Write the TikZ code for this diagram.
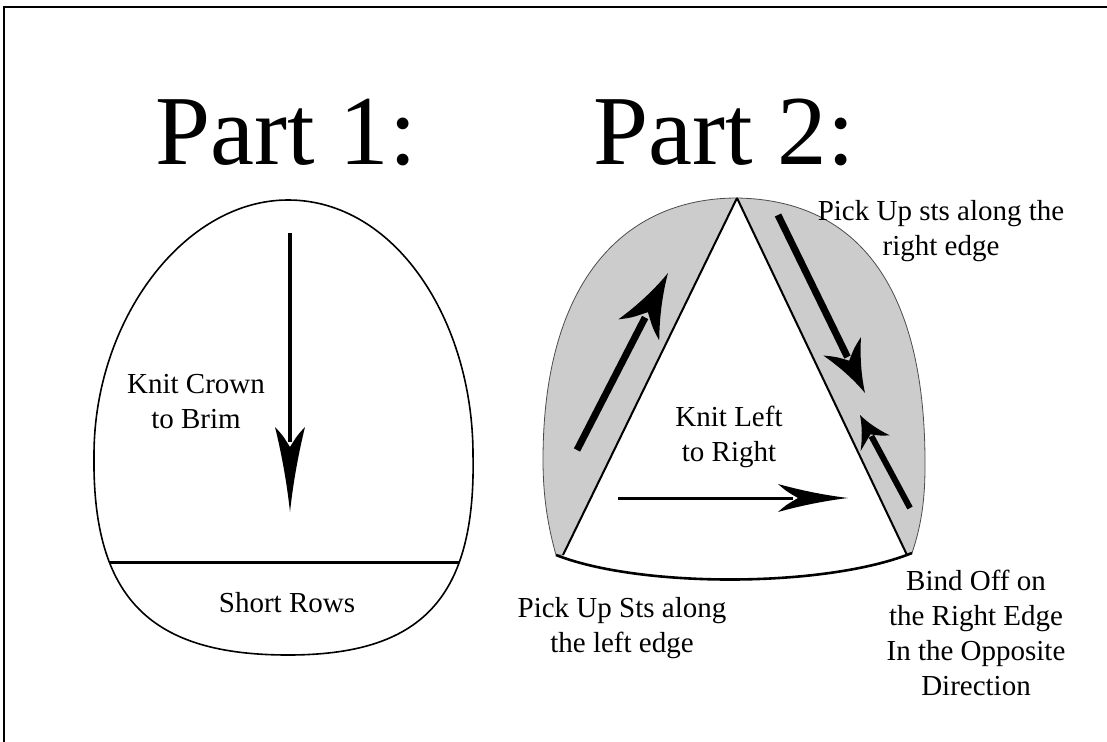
\documentclass[tikz,border=0pt]{standalone}
\usepackage{fontspec}
\setmainfont{Liberation Serif}
\usetikzlibrary{calc}
% arrow head: tip, angle, length, width, inset
\newcommand\ahd[5]{%
  \fill[shift={(#1)}, rotate=#2] (0,0) .. controls (-0.33*#3,0.1*#4) and (-0.67*#3,0.27*#4) .. (-#3,0.5*#4)
    .. controls (-#3+0.4*#5,0.25*#4) .. (-#3+#5,0)
    .. controls (-#3+0.4*#5,-0.25*#4) .. (-#3,-0.5*#4)
    .. controls (-0.67*#3,-0.27*#4) and (-0.33*#3,-0.1*#4) .. (0,0) -- cycle;}
\begin{document}
\begin{tikzpicture}[x=1pt,y=-1pt,
  title/.style={font=\fontsize{99}{104}\selectfont, inner sep=0pt, anchor=base},
  lbl/.style={font=\fontsize{29}{35}\selectfont, align=center, inner sep=0pt, anchor=north},
  outline/.style={draw=black, line width=1.6pt},
  wedge/.style={fill=black!20, draw=black!70, line width=0.8pt},
  edge/.style={draw=black, line width=2pt},
  thinarr/.style={line width=3.5pt},
  fatarr/.style={line width=7pt}]
\useasboundingbox (0,0) rectangle (1107,741);
% frame
\draw[line width=2.5pt] (4,760) -- (4,7) -- (1120,7);
% titles
\node[title] (t1) at (286,164) {Part 1:};
\node[title] (t2) at (724,164) {Part 2:};
% ---------- Part 1: egg ----------
\coordinate (eT) at (288,200);
\coordinate (eR) at (473,455);
\coordinate (eB) at (288,655);
\coordinate (eL) at (94,455);
\path[save path=\eggpath] (eT) .. controls (395,200) and (473,320) .. (eR)
  .. controls (476,600) and (420,655) .. (eB)
  .. controls (152,655) and (92,600) .. (eL)
  .. controls (94,320) and (184,200) .. (eT) -- cycle;
\begin{scope}
  \clip[use path=\eggpath];
  \coordinate (sL) at (80,562);
  \coordinate (sR) at (490,562);
  \draw[line width=3pt] (sL) -- (sR);
\end{scope}
\draw[outline, use path=\eggpath];
\coordinate (c1) at (290,233);
\coordinate (c2) at (290,512);
\draw[thinarr] (c1) -- ($(c2)!70pt!(c1)$);
\ahd{c2}{-90}{85}{30}{20}
\node[lbl] (crown) at (196,374) {Knit Crown\\to Brim};
\node[font=\fontsize{29}{35}\selectfont, inner sep=0pt, anchor=base] (short) at (287,612) {Short Rows};
% ---------- Part 2 ----------
\coordinate (A) at (737,198);
\coordinate (BL) at (563,555);
\coordinate (BR) at (907,555);
\coordinate (OL) at (556,555);
\coordinate (OR) at (912,553);
\path[wedge] (A) .. controls (625,198) and (543,280) .. (543,460)
  .. controls (543,500) and (549,530) .. (OL) -- (BL) -- cycle;
\path[wedge] (A) .. controls (860,200) and (926,290) .. (925,467)
  .. controls (925,510) and (918,535) .. (OR) -- (BR) -- cycle;
\draw[edge] (A) -- (BL);
\draw[edge] (A) -- (BR);
\draw[line width=2.6pt] (OL) .. controls (640,588) and (825,588) .. (OR);
% arrows
\coordinate (la1) at (577,450);
\coordinate (la2) at (668,273);
\draw[fatarr] (la1) -- ($(la2)!50pt!(la1)$);
\ahd{la2}{62.8}{64}{46}{20}
\coordinate (ra1) at (778,215);
\coordinate (ra2) at (865,393);
\draw[fatarr] (ra1) -- ($(ra2)!40pt!(ra1)$);
\ahd{ra2}{-63.9}{52}{42}{16}
\coordinate (rb1) at (910,508);
\coordinate (rb2) at (860,415);
\draw[line width=6pt] (rb1) -- ($(rb2)!24pt!(rb1)$);
\ahd{rb2}{118.3}{32}{33}{10}
\coordinate (h1) at (618,498);
\coordinate (h2) at (848,498);
\draw[line width=3pt] (h1) -- ($(h2)!55pt!(h1)$);
\ahd{h2}{0}{70}{28}{20}
% labels
\node[lbl] (klr) at (729,406) {Knit Left\\to Right};
\node[lbl] (pur) at (941,200) {Pick Up sts along the\\right edge};
\node[lbl] (pul) at (622,597) {Pick Up Sts along\\the left edge};
\node[lbl] (bind) at (976,570) {Bind Off on\\the Right Edge\\In the Opposite\\Direction};
\end{tikzpicture}
\end{document}
